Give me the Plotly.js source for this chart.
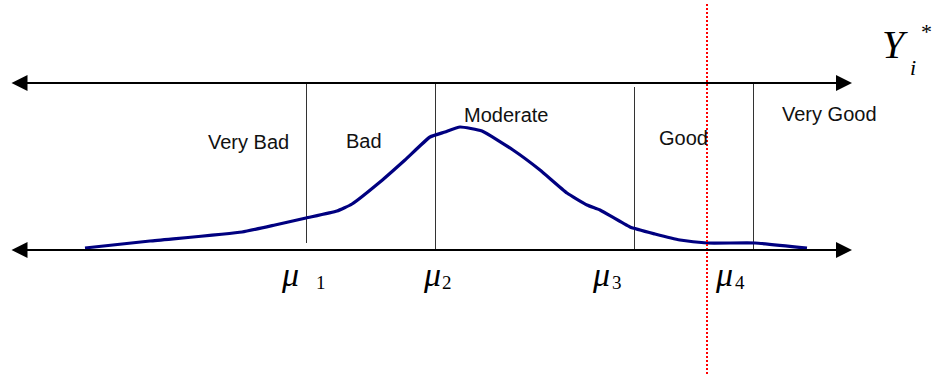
<!DOCTYPE html>
<html>
<head>
<meta charset="utf-8">
<script src="https://cdn.plot.ly/plotly-3.0.1.min.js"></script>
<style>
  html, body { margin: 0; padding: 0; background: #fff; }
  #chart { width: 932px; height: 374px; }
</style>
</head>
<body>
<div id="chart"></div>
<script>
// diagram drawn in a pixel-like coordinate frame (y grows downward)
const curveX = [85, 150, 242, 275, 306, 337, 352, 380, 405, 430, 445, 460, 482, 513, 540, 567, 587, 600, 630, 655, 680, 707, 755, 807];
const curveY = [248, 241, 232, 225, 218, 211, 204, 182, 160, 137, 132, 127, 131, 150, 170, 193, 205, 210, 227, 234, 240, 243, 243, 248];

const cutX = [306.5, 435.5, 634.5, 753.5];
const cutTop = [83, 83, 87, 83];
const cutBottom = [243, 250, 250, 250];

const axisY = [83, 250];
const axisLeft = 10;
const axisRight = 852;

const thresholdX = 707;
const thresholdY = [4, 374];

const categories = ["Very Bad", "Bad", "Moderate", "Good", "Very Good"];
const catX = [248, 364, 506, 683, 829];
const catY = [142, 141, 115, 138, 114];

const muLabels = ["1", "2", "3", "4"];
const muX = [290, 432, 601, 724];
const muSubX = [321, 447, 617, 740];
const muY = 274;
const muSubY = 282;

// cut-point lines as one trace, segments split by nulls
const vx = [], vy = [];
cutX.forEach((x, i) => {
  vx.push(x, x, null);
  vy.push(cutTop[i], cutBottom[i], null);
});

const traces = [
  {
    x: vx, y: vy, mode: "lines", hoverinfo: "skip",
    line: { color: "#333", width: 1 },
  },
  {
    x: curveX, y: curveY, mode: "lines", hoverinfo: "skip",
    line: { color: "#000080", width: 3.2, shape: "spline", smoothing: 0.4 },
  },
  {
    x: [thresholdX, thresholdX], y: thresholdY, mode: "lines", hoverinfo: "skip",
    line: { color: "#ff0000", width: 2, dash: "2px,2px" },
  },
];

const annotations = [];

axisY.forEach((y) => {
  annotations.push({
    x: axisRight, y: y, ax: axisLeft, ay: y, axref: "x", ayref: "y",
    xref: "x", yref: "y", text: "", showarrow: true,
    arrowside: "end+start", arrowhead: 2, startarrowhead: 2,
    arrowsize: 1.6, startarrowsize: 1.6, arrowwidth: 2, arrowcolor: "#000",
    standoff: 0, startstandoff: 0,
  });
});

categories.forEach((c, i) => {
  annotations.push({
    x: catX[i], y: catY[i], xref: "x", yref: "y", text: c, showarrow: false,
    font: { family: "Liberation Sans, Arial, sans-serif", size: 20, color: "#111" },
  });
});

const serif = "Liberation Serif, Times New Roman, serif";
muLabels.forEach((s, i) => {
  annotations.push({
    x: muX[i], y: muY, xref: "x", yref: "y", text: "<i>μ</i>", showarrow: false,
    font: { family: serif, size: 34, color: "#000" },
  });
  annotations.push({
    x: muSubX[i], y: muSubY, xref: "x", yref: "y", text: s, showarrow: false,
    font: { family: serif, size: 19, color: "#000" },
  });
});

annotations.push(
  { x: 895, y: 44, xref: "x", yref: "y", text: "<i>Y</i>", showarrow: false,
    font: { family: serif, size: 40, color: "#000" } },
  { x: 913, y: 67, xref: "x", yref: "y", text: "<i>i</i>", showarrow: false,
    font: { family: serif, size: 22, color: "#000" } },
  { x: 926, y: 31, xref: "x", yref: "y", text: "*", showarrow: false,
    font: { family: serif, size: 22, color: "#000" } }
);

Plotly.newPlot("chart", traces, {
  width: 932,
  height: 374,
  margin: { l: 0, r: 0, t: 0, b: 0 },
  paper_bgcolor: "#fff",
  plot_bgcolor: "#fff",
  showlegend: false,
  xaxis: { range: [0, 932], visible: false, fixedrange: true },
  yaxis: { range: [374, 0], visible: false, fixedrange: true },
  annotations: annotations,
}, { displayModeBar: false, staticPlot: true });
</script>
</body>
</html>
